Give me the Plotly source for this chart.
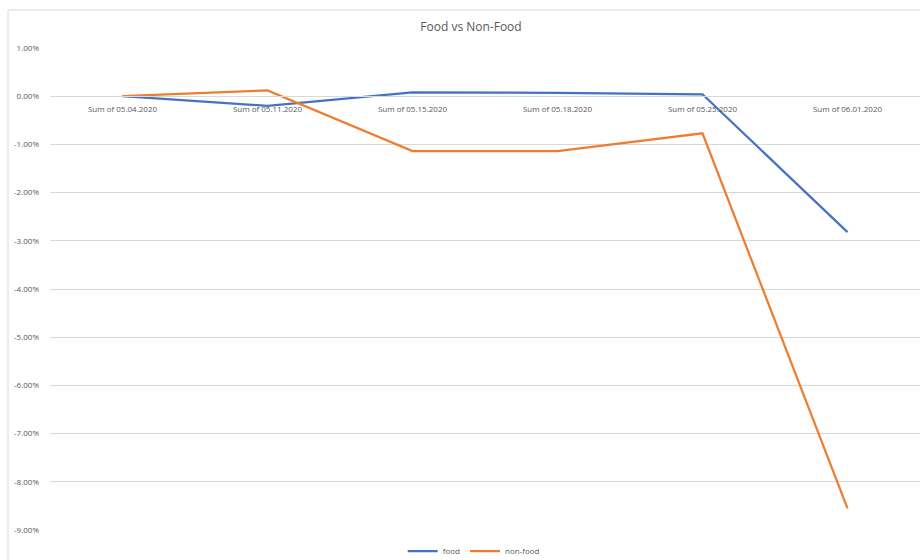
import plotly.graph_objects as go

# Weekly change, in percent, for food and non-food sales
categories = ["Sum of 05.04.2020", "Sum of 05.11.2020", "Sum of 05.15.2020",
              "Sum of 05.18.2020", "Sum of 05.25.2020", "Sum of 06.01.2020"]
food = [0.00, -0.20, 0.08, 0.07, 0.04, -2.82]
non_food = [0.00, 0.12, -1.14, -1.14, -0.77, -8.55]
y_ticks = [1, 0, -1, -2, -3, -4, -5, -6, -7, -8, -9]

W, H = 920, 560
ML, MR, MT, MB = 50, 0, 48, 30
plot_h = H - MT - MB
plot_w = W - ML - MR
y_min, y_max = -9, 1

fig = go.Figure()
fig.add_trace(go.Scatter(x=categories, y=food, name="food", mode="lines",
                         line=dict(color="#4472C4", width=2.25)))
fig.add_trace(go.Scatter(x=categories, y=non_food, name="non-food", mode="lines",
                         line=dict(color="#ED7D31", width=2.25)))

# chart frame
fig.add_shape(type="rect", xref="paper", yref="paper",
              x0=(8 - ML) / plot_w, x1=1.2,
              y0=-0.3, y1=1 + (MT - 10) / plot_h,
              line=dict(color="#d9d9d9", width=1), fillcolor="rgba(0,0,0,0)",
              layer="below")

fig.update_layout(
    width=W, height=H,
    margin=dict(l=ML, r=MR, t=MT, b=MB, autoexpand=False),
    paper_bgcolor="white", plot_bgcolor="white",
    font=dict(family="Open Sans, Noto Sans, sans-serif", color="#595959", size=8),
    title=dict(text="Food vs Non-Food", x=471 / W, xanchor="center",
               y=1 - 27 / H, yanchor="middle",
               font=dict(size=12, color="#595959")),
    showlegend=True,
    legend=dict(orientation="h", x=0.487, xanchor="center",
                y=-(551 - (MT + plot_h)) / plot_h, yanchor="middle",
                font=dict(size=8, color="#595959"), bgcolor="rgba(0,0,0,0)",
                itemwidth=30, tracegroupgap=0),
    xaxis=dict(type="category", range=[-0.5, 5.5],
               showgrid=False, zeroline=False,
               showline=True, linecolor="#d9d9d9", linewidth=1,
               anchor="free", position=(0 - y_min) / (y_max - y_min),
               ticks="", ticklabelstandoff=5,
               tickfont=dict(size=8, color="#595959")),
    yaxis=dict(range=[y_min, y_max], tickvals=y_ticks,
               ticktext=[f"{v:.2f}%" for v in y_ticks],
               showgrid=True, gridcolor="#d9d9d9", gridwidth=1,
               zeroline=False, showline=False, ticks="",
               ticklabelstandoff=10,
               tickfont=dict(size=8, color="#595959")),
)

fig.write_html("out.html")
